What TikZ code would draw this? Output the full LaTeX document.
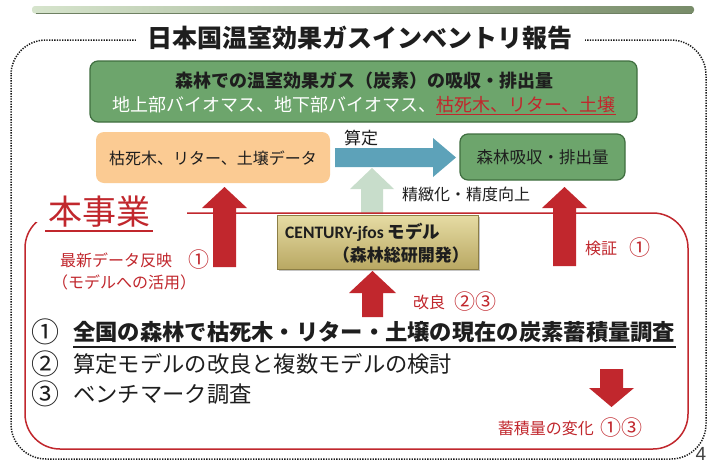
\documentclass[tikz,border=0pt]{standalone}
\usepackage{fontspec}
\setmainfont{Noto Sans CJK JP}
\newfontfamily\carlito{Carlito}
\newfontfamily\numfont{Liberation Sans}
\usetikzlibrary{shadows}
\definecolor{myred}{HTML}{C1272D}
\definecolor{txt}{HTML}{1E1E1E}
\definecolor{gfill}{HTML}{6DA56C}
\definecolor{gdraw}{HTML}{3F6E3F}
\definecolor{ofill}{HTML}{FBCB93}
\definecolor{bfill}{HTML}{5DA2B9}
\definecolor{lgfill}{HTML}{C8DDCB}
\definecolor{dotc}{HTML}{1A1A1A}
\newcommand\myfs[1]{\fontsize{#1}{#1}\selectfont}
\begin{document}
\begin{tikzpicture}[x=1pt,y=-1pt,
  lbl/.style={inner sep=0pt,text=txt},
  redlbl/.style={inner sep=0pt,text=myred},
  blockred/.style={fill=myred,draw=none},
  gbox/.style={draw=gdraw,fill=gfill,line width=1.2pt,rounded corners=8pt,inner sep=0pt},
  obox/.style={fill=ofill,draw=none,rounded corners=8pt,inner sep=0pt},
  cbox/.style={top color=cenT,bottom color=cenB,draw=cenD,line width=0.6pt,inner sep=0pt,
    drop shadow={shadow xshift=2pt,shadow yshift=-2pt,opacity=0.45}}]
\definecolor{cenT}{HTML}{E6DCA4}
\definecolor{cenB}{HTML}{B9A863}
\definecolor{cenD}{HTML}{8C7E45}
\useasboundingbox (0,0) rectangle (715,466);
\fill[white] (0,0) rectangle (715,466);
% top bar
\shade[left color={rgb,255:red,214;green,228;blue,204}, right color={rgb,255:red,120;green,140;blue,105}, rounded corners=3pt] (32,6) rectangle (694,13.5);
\draw[line width=0.8pt,color={rgb,255:red,110;green,128;blue,98}] (36,13.5) -- (692,13.5);
% dotted frame
\draw[dotc,line width=1.5pt,dash pattern=on 1.3pt off 1.3pt,rounded corners=35pt] (11,40) rectangle (706,459);
\node[fill=white,inner xsep=12pt,inner ysep=2pt,text=txt,font=\bfseries\myfs{25}] (title) at (360,38) {日本国温室効果ガスインベントリ報告};
% top green box
\node[gbox,minimum width=547pt,minimum height=61pt] (inv) at (363.5,91.5) {};
\node[lbl,font=\bfseries\myfs{18}] (inv1) at (364,81) {森林での温室効果ガス（炭素）の吸収・排出量};
\node[inner sep=0pt,text=white,font=\myfs{18}] (inv2) at (364,106) {地上部バイオマス、地下部バイオマス、\textcolor{myred}{\underline{枯死木、リター、土壌}}};
% orange & right green
\node[obox,minimum width=234pt,minimum height=51pt] (data) at (213,157.5) {};
\node[lbl,font=\myfs{16}] (datat) at (213,158) {枯死木、リター、土壌データ};
\node[gbox,minimum width=165pt,minimum height=46pt] (res) at (542.5,157) {};
\node[lbl,font=\myfs{16.5}] (rest) at (542.5,157.5) {森林吸収・排出量};
% blue arrow
\fill[bfill] (335,148) -- (433,148) -- (433,138) -- (456,157.5) -- (433,177) -- (433,167) -- (335,167) -- cycle;
\node[lbl,font=\myfs{17}] (santei) at (361,138) {算定};
% light green arrow
\fill[lgfill] (361,214) -- (361,189) -- (350,189) -- (372,168) -- (394,189) -- (383,189) -- (383,214) -- cycle;
\node[lbl,font=\myfs{16},anchor=west] (seichi) at (402,194) {精緻化・精度向上};
% red frame
\draw[myred,line width=1.5pt,rounded corners=35pt] (25,213) rectangle (688,449);
\fill[white] (36,198) rectangle (187,222);
\node[redlbl,font=\myfs{34}] (jigyo) at (99.5,212) {本事業};
\draw[myred,line width=1.8pt] (45,231) -- (153,231);
% century box
\node[cbox,minimum width=201pt,minimum height=54pt] (cent) at (377.5,242) {};
\node[lbl,anchor=west,font=\bfseries\myfs{17.5}] (cent1) at (285,232) {{\carlito\bfseries CENTURY-jfos} モデル};
\node[lbl,anchor=east,font=\bfseries\myfs{17}] (cent2) at (469,255) {（森林総研開発）};
% red arrows
\fill[blockred] (213,267) -- (213,208) -- (202,208) -- (224.5,187) -- (247,208) -- (236,208) -- (236,267) -- cycle;
\fill[blockred] (553,266) -- (553,208) -- (542,208) -- (564.5,187) -- (587,208) -- (576,208) -- (576,266) -- cycle;
\fill[blockred] (362,317) -- (362,293) -- (349,293) -- (372.5,271) -- (396,293) -- (383,293) -- (383,317) -- cycle;
\fill[blockred] (600,369) -- (623,369) -- (623,388) -- (634,388) -- (611.5,407) -- (589,388) -- (600,388) -- cycle;
% red labels
\node[redlbl,anchor=west,font=\myfs{16}] (saishin) at (60,260) {最新データ反映};
\node[redlbl,anchor=east,font=\myfs{21}] (saishinN) at (210,260) {①};
\node[redlbl,anchor=west,font=\myfs{16}] (katsuyo) at (52,282) {（モデルへの活用）};
\node[redlbl,anchor=west,font=\myfs{16}] (kensho) at (585,248) {検証};
\node[redlbl,anchor=east,font=\myfs{21}] (kenshoN) at (651,248) {①};
\node[redlbl,anchor=west,font=\myfs{16}] (kairyo) at (413,302) {改良};
\node[redlbl,anchor=east,font=\myfs{21}] (kairyoN) at (497,302) {②③};
\node[redlbl,anchor=east,font=\myfs{16}] (henka) at (594,428) {蓄積量の変化};
\node[redlbl,anchor=east,font=\myfs{21}] (henkaN) at (643,428) {①③};
% list
\node[lbl,font=\myfs{28}] (n1) at (45,332) {①};
\node[lbl,anchor=west,font=\bfseries\myfs{22.3}] (l1) at (73,332) {全国の森林で枯死木・リター・土壌の現在の炭素蓄積量調査};
\draw[txt,line width=1.3pt] (73,347) -- (l1.east |- 0,347);
\node[lbl,font=\myfs{28}] (n2) at (45,364) {②};
\node[lbl,anchor=west,font=\myfs{22.3}] (l2) at (73,364) {算定モデルの改良と複数モデルの検討};
\node[lbl,font=\myfs{28}] (n3) at (45,394) {③};
\node[lbl,anchor=west,font=\myfs{22.3}] (l3) at (73,394) {ベンチマーク調査};
% page number
\node[inner sep=0pt,text={rgb,255:red,64;green,64;blue,64},font=\numfont\myfs{19}] (pg) at (701,454) {4};
\end{tikzpicture}
\end{document}
